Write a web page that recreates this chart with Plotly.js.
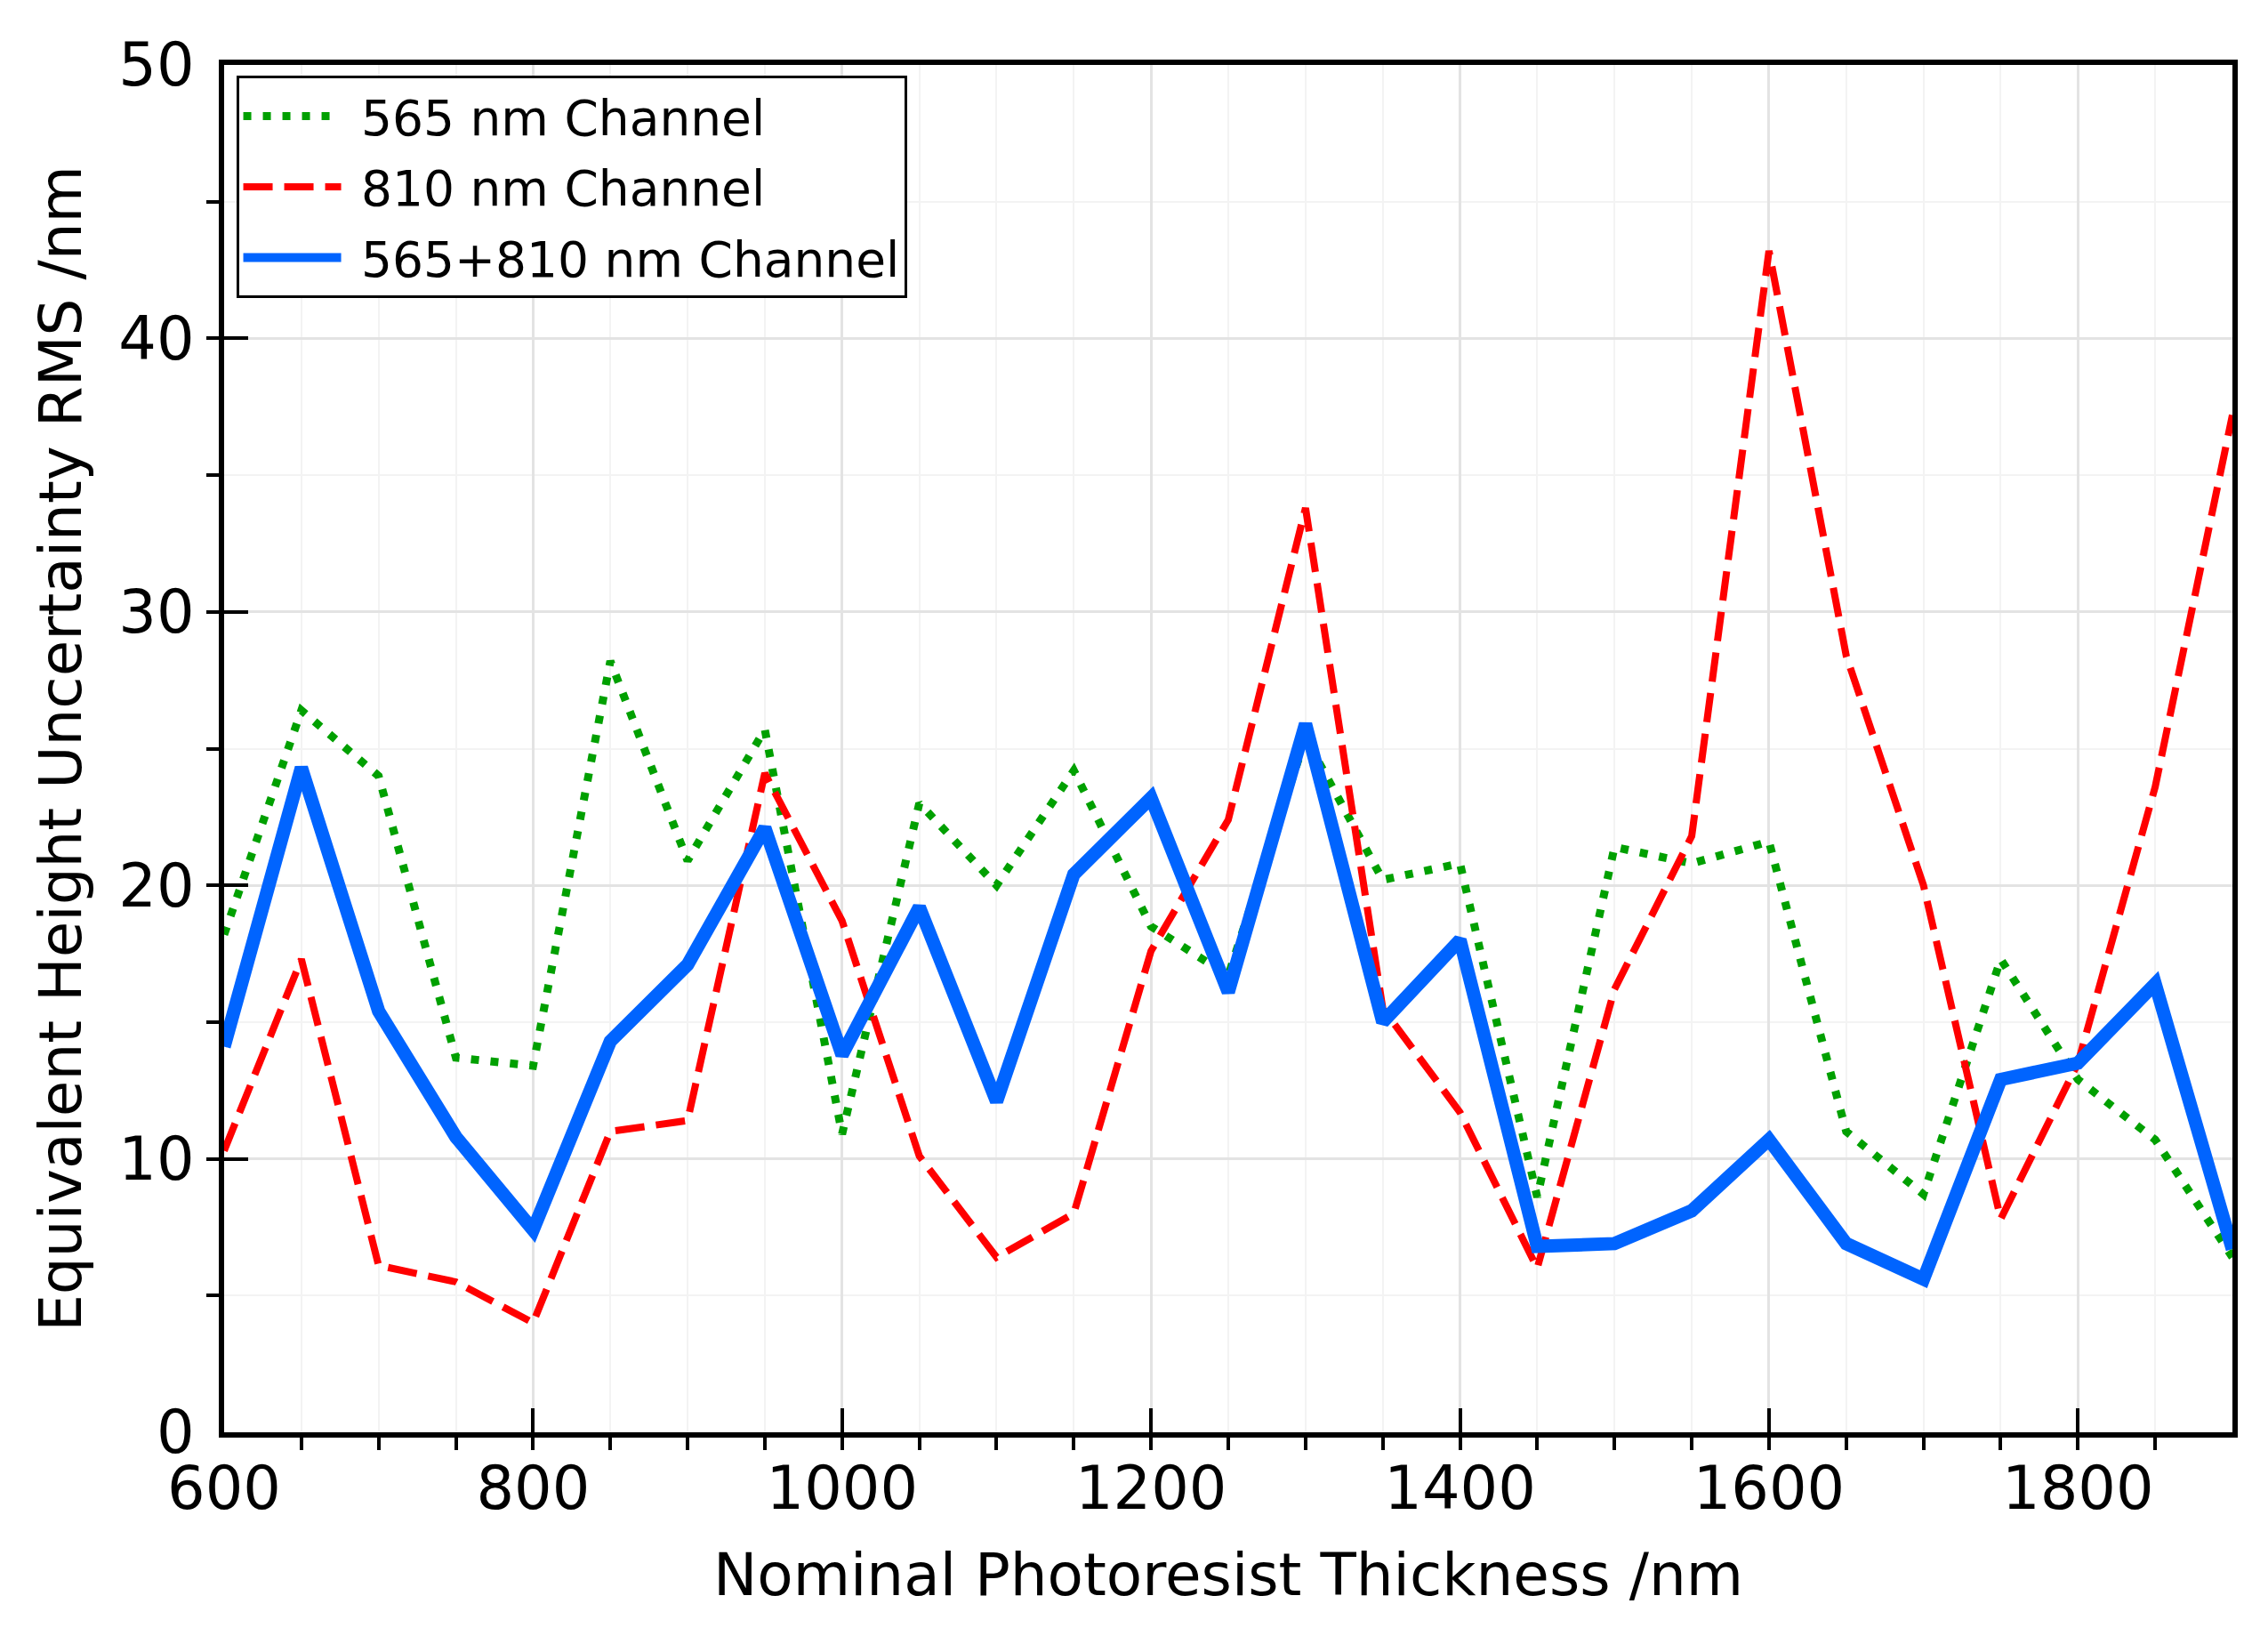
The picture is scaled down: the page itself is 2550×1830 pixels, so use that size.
<!DOCTYPE html>
<html>
<head>
<meta charset="utf-8">
<script src="https://cdn.plot.ly/plotly-3.0.1.min.js"></script>
<style>
  html, body { margin: 0; padding: 0; background: #ffffff; }
  #chart { width: 2550px; height: 1830px; }
</style>
</head>
<body>
<div id="chart"></div>
<script>
// Nominal photoresist thickness (nm)
const thickness = [600, 650, 700, 750, 800, 850, 900, 950, 1000, 1050, 1100, 1150, 1200, 1250,
                   1300, 1350, 1400, 1450, 1500, 1550, 1600, 1650, 1700, 1750, 1800, 1850, 1900];

// Equivalent height uncertainty RMS (nm)
const ch565 = [18.2, 26.4, 24.0, 13.7, 13.4, 28.2, 20.9, 25.7, 10.9, 23.0, 20.0, 24.2, 18.5, 16.7,
               25.4, 20.2, 20.8, 8.6, 21.4, 20.8, 21.6, 11.0, 8.7, 17.3, 12.9, 10.7, 6.4];
const ch810 = [10.3, 17.3, 6.1, 5.5, 4.0, 11.0, 11.4, 24.1, 18.7, 10.1, 6.4, 8.0, 17.6, 22.4,
               33.8, 15.5, 11.7, 6.0, 16.2, 21.8, 43.2, 28.4, 20.0, 7.8, 13.5, 23.6, 37.2];
const chBoth = [14.1, 24.3, 15.4, 10.8, 7.4, 14.3, 17.1, 22.1, 13.8, 19.2, 12.1, 20.4, 23.2, 16.1,
                25.9, 15.0, 18.0, 6.8, 6.9, 8.1, 10.7, 6.9, 5.6, 12.9, 13.5, 16.4, 6.7];

const seriesNames = ["565 nm Channel", "810 nm Channel", "565+810 nm Channel"];

const xTickVals = [600, 800, 1000, 1200, 1400, 1600, 1800];
const xTickText = ["600", "800", "1000", "1200", "1400", "1600", "1800"];
const yTickVals = [0, 10, 20, 30, 40, 50];
const yTickText = ["0", "10", "20", "30", "40", "50"];

const FONT = "DejaVu Sans, Liberation Sans, sans-serif";
const GAP = "\u00a0"; // small gap between legend sample and label

const traces = [
  {
    x: thickness, y: ch565, name: GAP + seriesNames[0], type: "scatter", mode: "lines",
    legendgroup: "g1",
    line: { color: "#00a000", width: 9, dash: "9px,13px" }
  },
  {
    x: thickness, y: ch810, name: GAP + seriesNames[1], type: "scatter", mode: "lines",
    legendgroup: "g2",
    line: { color: "#ff0000", width: 8, dash: "33px,13px" }
  },
  {
    x: thickness, y: chBoth, name: GAP + seriesNames[2], type: "scatter", mode: "lines",
    legendgroup: "g3",
    line: { color: "#0064ff", width: 15 }
  }
];

const layout = {
  width: 2550,
  height: 1830,
  paper_bgcolor: "#ffffff",
  plot_bgcolor: "#ffffff",
  margin: { l: 252, r: 40, t: 73, b: 220 },
  font: { family: FONT, size: 66, color: "#000000" },
  showlegend: true,
  legend: {
    x: 0.006, y: 0.992, xanchor: "left", yanchor: "top",
    bgcolor: "#ffffff",
    bordercolor: "#000000",
    borderwidth: 3,
    font: { family: FONT, size: 55, color: "#000000" },
    itemwidth: 110,
    traceorder: "grouped",
    tracegroupgap: 5
  },
  xaxis: {
    range: [600, 1900],
    tickmode: "array",
    tickvals: xTickVals,
    ticktext: xTickText,
    ticks: "inside",
    ticklen: 27,
    tickwidth: 4,
    tickcolor: "#000000",
    tickfont: { family: FONT, size: 67, color: "#000000" },
    ticklabelstandoff: 0,
    showline: true,
    linecolor: "#000000",
    linewidth: 6,
    mirror: true,
    showgrid: true,
    gridcolor: "#e3e3e3",
    gridwidth: 3,
    zeroline: false,
    minor: {
      dtick: 50,
      tick0: 600,
      ticks: "outside",
      ticklen: 14,
      tickwidth: 4,
      tickcolor: "#000000",
      showgrid: true,
      gridcolor: "#f3f3f3",
      gridwidth: 2
    },
    title: { text: "Nominal Photoresist Thickness /nm", font: { family: FONT, size: 66 }, standoff: 37 }
  },
  yaxis: {
    range: [0, 50],
    tickmode: "array",
    tickvals: yTickVals,
    ticktext: yTickText,
    ticks: "inside",
    ticklen: 27,
    tickwidth: 4,
    tickcolor: "#000000",
    tickfont: { family: FONT, size: 67, color: "#000000" },
    ticklabelstandoff: 14,
    showline: true,
    linecolor: "#000000",
    linewidth: 6,
    mirror: true,
    showgrid: true,
    gridcolor: "#e3e3e3",
    gridwidth: 3,
    zeroline: false,
    minor: {
      dtick: 5,
      tick0: 0,
      ticks: "outside",
      ticklen: 14,
      tickwidth: 4,
      tickcolor: "#000000",
      showgrid: true,
      gridcolor: "#f3f3f3",
      gridwidth: 2
    },
    title: { text: "Equivalent Height Uncertainty RMS /nm", font: { family: FONT, size: 66 }, standoff: 22 }
  },
  xaxis2: {
    overlaying: "x", side: "top", anchor: "y",
    range: [600, 1900],
    tickmode: "array", tickvals: xTickVals,
    ticks: "inside", ticklen: 27, tickwidth: 4, tickcolor: "#000000",
    showticklabels: false, showgrid: false, zeroline: false, showline: false
  },
  yaxis2: {
    overlaying: "y", side: "right", anchor: "x",
    range: [0, 50],
    tickmode: "array", tickvals: yTickVals,
    ticks: "inside", ticklen: 27, tickwidth: 4, tickcolor: "#000000",
    showticklabels: false, showgrid: false, zeroline: false, showline: false
  }
};

Plotly.newPlot("chart", traces, layout, { displayModeBar: false, staticPlot: true });
</script>
</body>
</html>
